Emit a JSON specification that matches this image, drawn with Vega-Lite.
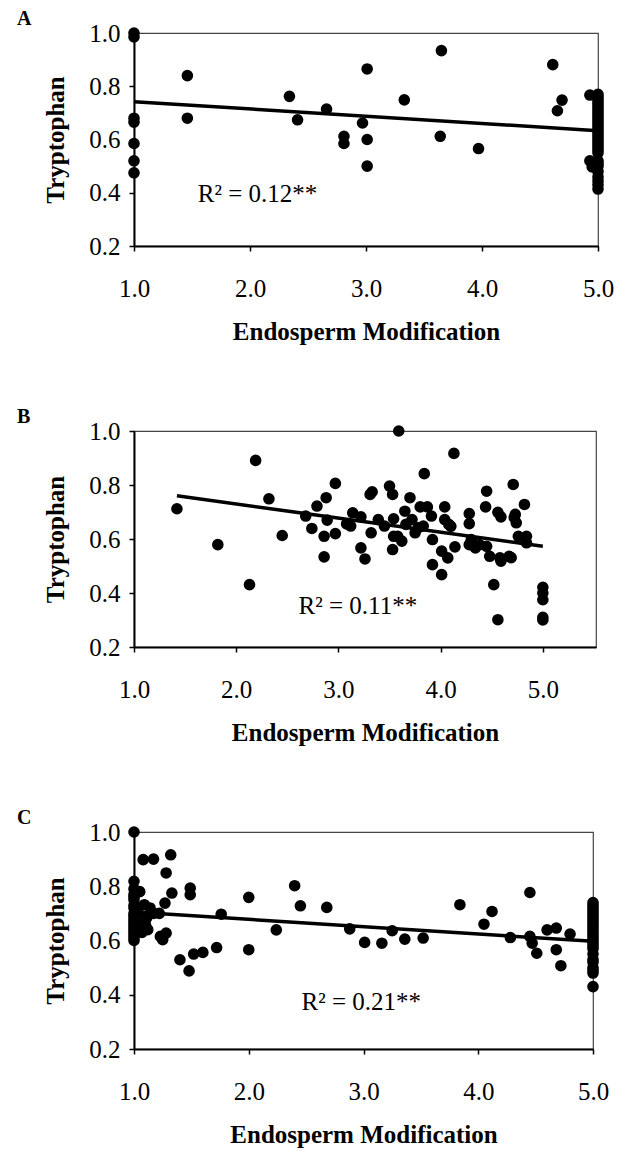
{
"$schema": "https://vega.github.io/schema/vega-lite/v6.json",
"padding": {"left": 16, "top": 8, "right": 5, "bottom": 0},
"background": "white",
"bounds": "flush",
"spacing": 185,
"config": {
  "font": "Liberation Serif",
  "view": {"stroke": "#444", "strokeWidth": 1.2},
  "axis": {"labelFont": "Liberation Serif", "labelFontSize": 25, "labelColor": "black", "titleFont": "Liberation Serif", "titleFontSize": 25, "titleFontWeight": "bold", "titleColor": "black", "domainColor": "black", "domainWidth": 2, "tickColor": "black", "tickSize": 5, "tickWidth": 1.5, "grid": false, "labelFlush": false, "labelOverlap": false, "format": ".1f"},
  "axisX": {"labelPadding": 25, "titlePadding": 18},
  "axisY": {"labelPadding": 9, "titlePadding": 20},
  "title": {"anchor": "start", "frame": "group", "dx": -117, "offset": -8, "font": "Liberation Serif", "fontSize": 20, "fontWeight": "bold", "color": "black", "baseline": "alphabetic"}
},
"datasets": {
  "A": [
    {"x":1.0,"y":1.0},{"x":1.0,"y":0.985},{"x":1.0,"y":0.68},{"x":1.0,"y":0.665},{"x":1.0,"y":0.585},{"x":1.0,"y":0.52},{"x":1.0,"y":0.475},
    {"x":1.46,"y":0.84},{"x":1.46,"y":0.68},{"x":2.34,"y":0.762},{"x":2.41,"y":0.674},{"x":2.66,"y":0.714},{"x":2.81,"y":0.612},{"x":2.81,"y":0.585},{"x":2.97,"y":0.662},{"x":3.01,"y":0.865},{"x":3.01,"y":0.6},{"x":3.01,"y":0.5},{"x":3.33,"y":0.749},{"x":3.65,"y":0.934},{"x":3.64,"y":0.612},{"x":3.97,"y":0.566},{"x":4.61,"y":0.881},{"x":4.69,"y":0.748},{"x":4.65,"y":0.708},
    {"x":4.93,"y":0.767},{"x":4.93,"y":0.52},{"x":4.95,"y":0.497},
    {"x":5.0,"y":0.77},{"x":5.0,"y":0.76},{"x":5.0,"y":0.75},{"x":5.0,"y":0.74},{"x":5.0,"y":0.73},{"x":5.0,"y":0.72},{"x":5.0,"y":0.71},{"x":5.0,"y":0.70},{"x":5.0,"y":0.69},{"x":5.0,"y":0.68},{"x":5.0,"y":0.67},{"x":5.0,"y":0.66},{"x":5.0,"y":0.65},{"x":5.0,"y":0.64},{"x":5.0,"y":0.63},{"x":5.0,"y":0.62},{"x":5.0,"y":0.61},{"x":5.0,"y":0.60},{"x":5.0,"y":0.59},{"x":5.0,"y":0.58},{"x":5.0,"y":0.57},{"x":5.0,"y":0.56},{"x":5.0,"y":0.55},{"x":5.0,"y":0.52},{"x":5.0,"y":0.51},{"x":5.0,"y":0.50},{"x":5.0,"y":0.48},{"x":5.0,"y":0.46},{"x":5.0,"y":0.445},{"x":5.0,"y":0.43},{"x":5.0,"y":0.414}
  ],
  "B": [
    {"x":1.42,"y":0.712},{"x":1.82,"y":0.579},{"x":2.19,"y":0.891},{"x":2.13,"y":0.431},{"x":2.32,"y":0.749},{"x":2.45,"y":0.613},{"x":2.68,"y":0.685},{"x":2.74,"y":0.639},{"x":2.79,"y":0.722},{"x":2.88,"y":0.753},{"x":2.89,"y":0.670},{"x":2.86,"y":0.610},{"x":2.86,"y":0.534},{"x":2.97,"y":0.806},{"x":2.97,"y":0.620},{"x":3.08,"y":0.656},{"x":3.14,"y":0.697},{"x":3.12,"y":0.648},{"x":3.22,"y":0.682},{"x":3.22,"y":0.567},{"x":3.26,"y":0.526},{"x":3.31,"y":0.765},{"x":3.33,"y":0.775},{"x":3.32,"y":0.623},{"x":3.39,"y":0.672},{"x":3.45,"y":0.648},{"x":3.50,"y":0.796},{"x":3.53,"y":0.765},{"x":3.54,"y":0.675},{"x":3.54,"y":0.61},{"x":3.53,"y":0.561},{"x":3.58,"y":0.610},{"x":3.59,"y":1.0},{"x":3.62,"y":0.592},{"x":3.65,"y":0.703},{"x":3.66,"y":0.654},{"x":3.70,"y":0.753},{"x":3.72,"y":0.672},{"x":3.75,"y":0.623},{"x":3.78,"y":0.641},{"x":3.80,"y":0.719},{"x":3.83,"y":0.648},{"x":3.84,"y":0.842},{"x":3.87,"y":0.719},{"x":3.91,"y":0.685},{"x":3.92,"y":0.598},{"x":3.92,"y":0.505},{"x":4.01,"y":0.555},{"x":4.01,"y":0.468},{"x":4.04,"y":0.719},{"x":4.04,"y":0.672},{"x":4.07,"y":0.530},{"x":4.08,"y":0.654},{"x":4.10,"y":0.647},{"x":4.13,"y":0.917},{"x":4.14,"y":0.571},{"x":4.28,"y":0.694},{"x":4.28,"y":0.657},{"x":4.28,"y":0.579},{"x":4.30,"y":0.598},{"x":4.34,"y":0.567},{"x":4.38,"y":0.579},{"x":4.44,"y":0.719},{"x":4.45,"y":0.777},{"x":4.45,"y":0.573},{"x":4.48,"y":0.536},{"x":4.52,"y":0.431},{"x":4.56,"y":0.699},{"x":4.56,"y":0.301},{"x":4.58,"y":0.530},{"x":4.59,"y":0.682},{"x":4.59,"y":0.518},{"x":4.67,"y":0.536},{"x":4.69,"y":0.531},{"x":4.71,"y":0.802},{"x":4.72,"y":0.68},{"x":4.73,"y":0.691},{"x":4.74,"y":0.660},{"x":4.76,"y":0.61},{"x":4.82,"y":0.728},{"x":4.84,"y":0.610},{"x":4.84,"y":0.586},{"x":5.0,"y":0.421},{"x":5.0,"y":0.40},{"x":5.0,"y":0.375},{"x":5.0,"y":0.31},{"x":5.0,"y":0.30}
  ],
  "C": [
    {"x":1.0,"y":1.0},{"x":1.0,"y":0.818},{"x":1.0,"y":0.79},{"x":1.0,"y":0.77},{"x":1.0,"y":0.76},{"x":1.0,"y":0.75},{"x":1.0,"y":0.73},{"x":1.0,"y":0.72},{"x":1.0,"y":0.70},{"x":1.0,"y":0.69},{"x":1.0,"y":0.68},{"x":1.0,"y":0.67},{"x":1.0,"y":0.66},{"x":1.0,"y":0.65},{"x":1.0,"y":0.64},{"x":1.0,"y":0.63},{"x":1.0,"y":0.62},{"x":1.0,"y":0.61},{"x":1.0,"y":0.60},
    {"x":1.05,"y":0.78},{"x":1.09,"y":0.732},{"x":1.08,"y":0.898},{"x":1.17,"y":0.90},{"x":1.32,"y":0.916},{"x":1.28,"y":0.849},{"x":1.33,"y":0.775},{"x":1.27,"y":0.738},{"x":1.22,"y":0.70},{"x":1.17,"y":0.70},{"x":1.11,"y":0.683},{"x":1.12,"y":0.64},{"x":1.10,"y":0.658},{"x":1.23,"y":0.615},{"x":1.28,"y":0.627},{"x":1.25,"y":0.603},{"x":1.06,"y":0.66},{"x":1.04,"y":0.70},{"x":1.14,"y":0.72},{"x":1.07,"y":0.63},
    {"x":1.49,"y":0.793},{"x":1.49,"y":0.769},{"x":1.40,"y":0.529},{"x":1.48,"y":0.488},{"x":1.52,"y":0.55},{"x":1.60,"y":0.556},{"x":1.72,"y":0.574},{"x":1.76,"y":0.697},{"x":2.00,"y":0.759},{"x":2.00,"y":0.566},{"x":2.24,"y":0.639},{"x":2.40,"y":0.802},{"x":2.45,"y":0.728},{"x":2.68,"y":0.722},{"x":2.88,"y":0.643},{"x":3.01,"y":0.593},{"x":3.16,"y":0.590},{"x":3.25,"y":0.636},{"x":3.36,"y":0.605},{"x":3.52,"y":0.609},{"x":3.84,"y":0.732},{"x":4.12,"y":0.707},{"x":4.05,"y":0.660},{"x":4.45,"y":0.777},{"x":4.28,"y":0.611},{"x":4.45,"y":0.615},{"x":4.47,"y":0.59},{"x":4.51,"y":0.553},{"x":4.60,"y":0.639},{"x":4.68,"y":0.646},{"x":4.68,"y":0.566},{"x":4.72,"y":0.507},{"x":4.80,"y":0.624},
    {"x":5.0,"y":0.74},{"x":5.0,"y":0.73},{"x":5.0,"y":0.72},{"x":5.0,"y":0.71},{"x":5.0,"y":0.70},{"x":5.0,"y":0.69},{"x":5.0,"y":0.68},{"x":5.0,"y":0.67},{"x":5.0,"y":0.66},{"x":5.0,"y":0.65},{"x":5.0,"y":0.64},{"x":5.0,"y":0.63},{"x":5.0,"y":0.62},{"x":5.0,"y":0.61},{"x":5.0,"y":0.60},{"x":5.0,"y":0.59},{"x":5.0,"y":0.58},{"x":5.0,"y":0.57},{"x":5.0,"y":0.55},{"x":5.0,"y":0.53},{"x":5.0,"y":0.52},{"x":5.0,"y":0.50},{"x":5.0,"y":0.49},{"x":5.0,"y":0.48},{"x":5.0,"y":0.43}
  ],
  "lineA": [{"x":1.0,"y":0.742},{"x":5.0,"y":0.633}],
  "lineB": [{"x":1.42,"y":0.76},{"x":5.0,"y":0.573}],
  "lineC": [{"x":1.0,"y":0.705},{"x":5.0,"y":0.597}]
},
"vconcat": [
  {
    "width": 464, "height": 213,
    "title": {"text": "A"},
    "layer": [
      {"data": {"name": "lineA"}, "mark": {"type": "line", "color": "black", "strokeWidth": 3.5},
       "encoding": {"x": {"field": "x", "type": "quantitative"}, "y": {"field": "y", "type": "quantitative"}}},
      {"data": {"name": "A"}, "mark": {"type": "circle", "size": 135, "color": "black", "opacity": 1},
       "encoding": {
         "x": {"field": "x", "type": "quantitative", "scale": {"domain": [1, 5], "nice": false, "zero": false}, "axis": {"values": [1,2,3,4,5], "title": "Endosperm Modification"}},
         "y": {"field": "y", "type": "quantitative", "scale": {"domain": [0.2, 1.0], "nice": false, "zero": false}, "axis": {"values": [0.2,0.4,0.6,0.8,1.0], "title": "Tryptophan"}}}},
      {"data": {"values": [{"label": "R² = 0.12**"}]}, "mark": {"type": "text", "align": "left", "baseline": "alphabetic", "fontSize": 25, "font": "Liberation Serif", "color": "black"},
       "encoding": {"x": {"datum": 1.55}, "y": {"datum": 0.365}, "text": {"field": "label"}}}
    ]
  },
  {
    "width": 462, "height": 216,
    "title": {"text": "B"},
    "layer": [
      {"data": {"name": "lineB"}, "mark": {"type": "line", "color": "black", "strokeWidth": 3.5},
       "encoding": {"x": {"field": "x", "type": "quantitative"}, "y": {"field": "y", "type": "quantitative"}}},
      {"data": {"name": "B"}, "mark": {"type": "circle", "size": 135, "color": "black", "opacity": 1},
       "encoding": {
         "x": {"field": "x", "type": "quantitative", "scale": {"domain": [1, 5.52], "nice": false, "zero": false}, "axis": {"values": [1,2,3,4,5], "title": "Endosperm Modification"}},
         "y": {"field": "y", "type": "quantitative", "scale": {"domain": [0.2, 1.0], "nice": false, "zero": false}, "axis": {"values": [0.2,0.4,0.6,0.8,1.0], "title": "Tryptophan"}}}},
      {"data": {"values": [{"label": "R² = 0.11**"}]}, "mark": {"type": "text", "align": "left", "baseline": "alphabetic", "fontSize": 25, "font": "Liberation Serif", "color": "black"},
       "encoding": {"x": {"datum": 2.61}, "y": {"datum": 0.321}, "text": {"field": "label"}}}
    ]
  },
  {
    "width": 459, "height": 217,
    "title": {"text": "C"},
    "layer": [
      {"data": {"name": "lineC"}, "mark": {"type": "line", "color": "black", "strokeWidth": 3.5},
       "encoding": {"x": {"field": "x", "type": "quantitative"}, "y": {"field": "y", "type": "quantitative"}}},
      {"data": {"name": "C"}, "mark": {"type": "circle", "size": 135, "color": "black", "opacity": 1},
       "encoding": {
         "x": {"field": "x", "type": "quantitative", "scale": {"domain": [1, 5], "nice": false, "zero": false}, "axis": {"values": [1,2,3,4,5], "title": "Endosperm Modification"}},
         "y": {"field": "y", "type": "quantitative", "scale": {"domain": [0.2, 1.0], "nice": false, "zero": false}, "axis": {"values": [0.2,0.4,0.6,0.8,1.0], "title": "Tryptophan"}}}},
      {"data": {"values": [{"label": "R² = 0.21**"}]}, "mark": {"type": "text", "align": "left", "baseline": "alphabetic", "fontSize": 25, "font": "Liberation Serif", "color": "black"},
       "encoding": {"x": {"datum": 2.46}, "y": {"datum": 0.344}, "text": {"field": "label"}}}
    ]
  }
]
}
